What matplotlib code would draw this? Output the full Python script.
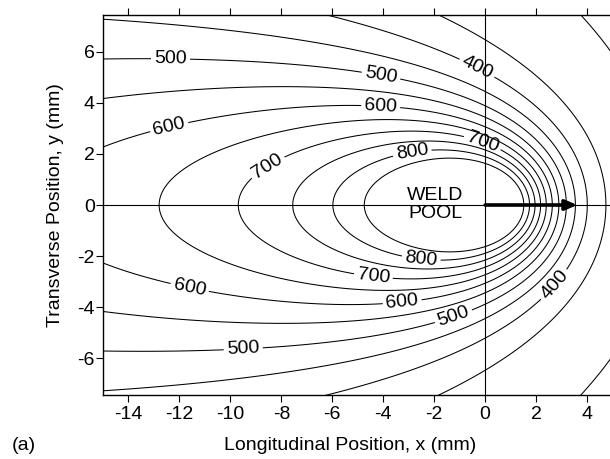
import numpy as np
import matplotlib
matplotlib.use("Agg")
import matplotlib.pyplot as plt

plt.rcParams["font.family"] = ["Liberation Sans", "DejaVu Sans"]
plt.rcParams["axes.unicode_minus"] = False

# Isotherm levels (deg C) and the spots where each one carries a label
levels = [300, 350, 400, 450, 500, 550, 600, 650, 700, 750, 800, 850]
label_spots = {
    400: [(-0.3, 5.4), (2.8, -3.2)],
    500: [(-12.35, 5.7), (-4.1, 5.0), (-9.5, -5.55), (-1.2, -4.5)],
    600: [(-12.4, 3.06), (-4.1, 3.85), (-11.6, -3.25), (-3.25, -3.85)],
    700: [(-8.6, 1.6), (0.0, 2.75), (-4.4, -2.9)],
    800: [(-2.9, 2.3), (-2.55, -2.5)],
}
x_ticks = [-14, -12, -10, -8, -6, -4, -2, 0, 2, 4]
y_ticks = [-6, -4, -2, 0, 2, 4, 6]

# Moving point source in a plate of finite thickness (method of images)
t_base = 292.57          # deg C
source_strength = 4471.0
decay = 0.3995           # v / (2 alpha), 1/mm
source_x = 1.5645        # mm
plane_depth = 2.756      # mm
plate_thickness = 6.508  # mm
y_scale = 1.0685
travel_end = 3.62        # arrow tip, mm

x = np.linspace(-15, 5.2, 600)
y = np.linspace(-7.6, 7.6, 460)
xx, yy = np.meshgrid(x, y)
xi = xx - source_x
field = np.zeros_like(xx)
for n in range(-4, 5):
    R = np.sqrt(xi**2 + (y_scale*yy)**2 + (plane_depth - 2*n*plate_thickness)**2)
    field += np.exp(-decay*(xi + R)) / R
temp = t_base + source_strength*field

fig = plt.figure(figsize=(6.10, 4.59), dpi=100)
ax = fig.add_axes([103/610, 64/459, 509.5/610, 380/459])

plain = [lev for lev in levels if lev not in label_spots]
ax.contour(xx, yy, temp, levels=plain, colors="k", linewidths=0.75)
for lev, spots in label_spots.items():
    cs = ax.contour(xx, yy, temp, levels=[lev], colors="k", linewidths=0.75)
    ax.clabel(cs, manual=spots, fmt="%d", fontsize=14,
              inline=True, inline_spacing=3)

ax.axhline(0, color="k", lw=0.8)
ax.axvline(0, color="k", lw=0.8)
ax.annotate("", xy=(travel_end, 0), xytext=(0, 0),
            arrowprops=dict(arrowstyle="-|>,head_length=0.7,head_width=0.3",
                            lw=2.6, color="k", shrinkA=0, shrinkB=0))
ax.text(-1.96, 0.02, "WELD\nPOOL", ha="center", va="center", fontsize=14,
        linespacing=1.15)

ax.set_xlim(-15, 5)
ax.set_ylim(-7.45, 7.45)
ax.set_xticks(x_ticks)
ax.set_yticks(y_ticks)
ax.tick_params(direction="out", length=5, width=0.8, labelsize=14,
               top=True, labeltop=False)
ax.tick_params(axis="x", pad=3)
ax.tick_params(axis="y", pad=1)
for side in ("left", "bottom", "top"):
    ax.spines[side].set_linewidth(1.0)
ax.spines["right"].set_visible(False)

fig.text(350/610, 1 - 446/459, "Longitudinal Position, x (mm)", ha="center",
         va="center", fontsize=14)
fig.text(56/610, 1 - 205/459, "Transverse Position, y (mm)", ha="center",
         va="center", rotation=90, fontsize=14)
fig.text(12/610, 1 - 445/459, "(a)", ha="left", va="center", fontsize=14)

fig.savefig("out.png", dpi=100)
